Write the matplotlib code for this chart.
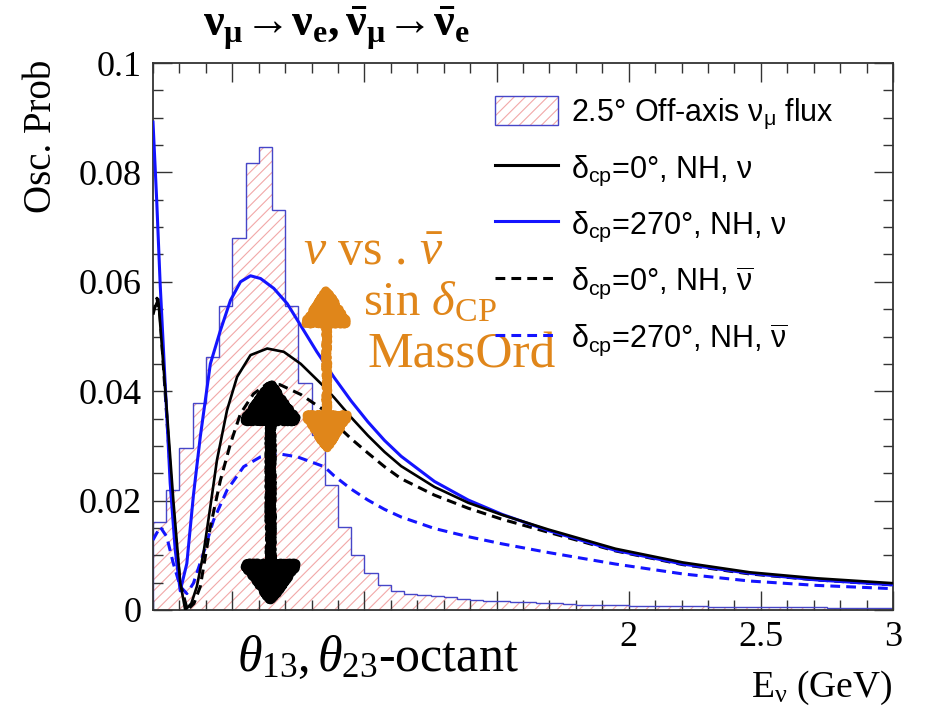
import matplotlib
matplotlib.use('Agg')
import matplotlib.pyplot as plt
import numpy as np
from matplotlib.patches import Patch
from matplotlib.lines import Line2D
from matplotlib.legend_handler import HandlerTuple
from matplotlib.ticker import MultipleLocator, FixedLocator, FixedFormatter

plt.rcParams['font.family'] = ['Liberation Serif', 'DejaVu Serif']
plt.rcParams['mathtext.fontset'] = 'custom'
plt.rcParams['mathtext.rm'] = 'Liberation Serif'
plt.rcParams['mathtext.it'] = 'Liberation Serif:italic'
plt.rcParams['mathtext.bf'] = 'Liberation Serif:bold'
plt.rcParams['mathtext.sf'] = 'Liberation Sans'
plt.rcParams['hatch.linewidth'] = 0.8

# 2.5 deg off-axis numu flux, 0.05 GeV bins from 0.2 to 3.0 GeV (arbitrary norm)
flux_edges = np.round(np.arange(0.2, 3.0001, 0.05), 3)
flux = [0.0160, 0.0219, 0.0297, 0.0379, 0.0463, 0.0556, 0.0680, 0.0817, 0.0846, 0.0731,
        0.0556, 0.0415, 0.0320, 0.0228, 0.0152, 0.0100, 0.0067, 0.0045, 0.0035,
        0.0030, 0.0027, 0.0025, 0.0023, 0.0021, 0.0019, 0.0017, 0.0016, 0.0015, 0.0014,
        0.0013, 0.0012, 0.0011, 0.0010, 0.0010, 0.0009, 0.0009, 0.0008, 0.0008, 0.0008,
        0.0007, 0.0007, 0.0007, 0.0006, 0.0006, 0.0006, 0.0006, 0.0005, 0.0005, 0.0005,
        0.0005, 0.0005, 0.0004, 0.0004, 0.0004, 0.0004, 0.0004]

# delta_cp = 0, NH, neutrino
e_nu0 = [0.20, 0.22, 0.25, 0.277, 0.303, 0.322, 0.345, 0.366, 0.391, 0.417, 0.442, 0.48,
         0.518, 0.569, 0.632, 0.695, 0.759, 0.848, 0.886, 0.95, 1.013, 1.076, 1.139, 1.265,
         1.393, 1.52, 1.697, 1.95, 2.204, 2.457, 2.71, 3.0]
p_nu0 = [0.0545, 0.0568, 0.0380, 0.0200, 0.0050, 0.0000, 0.0012, 0.0043, 0.0104, 0.0189,
         0.0274, 0.0365, 0.0426, 0.0466, 0.0478, 0.0472, 0.0450, 0.0408, 0.0388, 0.0352,
         0.0319, 0.0289, 0.0263, 0.0225, 0.0196, 0.0174, 0.0147, 0.0112, 0.0087, 0.0069,
         0.0058, 0.0049]

# delta_cp = 270, NH, neutrino
e_nu270 = [0.20, 0.214, 0.227, 0.246, 0.265, 0.284, 0.303, 0.328, 0.341, 0.353, 0.379,
           0.417, 0.455, 0.493, 0.531, 0.569, 0.607, 0.657, 0.708, 0.759, 0.82, 0.884, 0.95,
           1.013, 1.076, 1.139, 1.265, 1.393, 1.52, 1.697, 1.95, 2.204, 2.457, 2.71, 3.0]
p_nu270 = [0.0892, 0.0749, 0.0597, 0.0414, 0.0232, 0.0110, 0.0035, 0.0085, 0.0150, 0.0210,
           0.0317, 0.0450, 0.0511, 0.0566, 0.0600, 0.0611, 0.0606, 0.0588, 0.0560, 0.0520,
           0.0472, 0.0426, 0.0382, 0.0344, 0.0310, 0.0281, 0.0235, 0.0201, 0.0175, 0.0145,
           0.0109, 0.0084, 0.0067, 0.0055, 0.0046]

# delta_cp = 0, NH, antineutrino
e_nub0 = [0.20, 0.215, 0.227, 0.252, 0.277, 0.303, 0.33, 0.355, 0.379, 0.417, 0.455, 0.493,
          0.531, 0.58, 0.63, 0.68, 0.759, 0.848, 0.884, 0.95, 1.013, 1.076, 1.139, 1.265,
          1.393, 1.52, 1.697, 1.95, 2.204, 2.457, 2.71, 3.0]
p_nub0 = [0.0540, 0.0570, 0.0536, 0.0353, 0.0170, 0.0049, 0.0000, 0.0012, 0.0043, 0.0152,
          0.0237, 0.0304, 0.0359, 0.0395, 0.0413, 0.0412, 0.0394, 0.0365, 0.0343, 0.0313,
          0.0287, 0.0262, 0.0240, 0.0210, 0.0186, 0.0166, 0.0142, 0.0108, 0.0083, 0.0066,
          0.0055, 0.0046]

# delta_cp = 270, NH, antineutrino
e_nub270 = [0.20, 0.227, 0.252, 0.277, 0.303, 0.328, 0.353, 0.391, 0.429, 0.48, 0.543,
            0.607, 0.67, 0.746, 0.848, 0.886, 0.95, 1.013, 1.076, 1.139, 1.265, 1.393,
            1.52, 1.697, 1.95, 2.204, 2.457, 2.71, 3.0]
p_nub270 = [0.0128, 0.0152, 0.0134, 0.0085, 0.0043, 0.0030, 0.0049, 0.0104, 0.0164, 0.0219,
            0.0262, 0.0280, 0.0286, 0.0280, 0.0262, 0.0245, 0.0221, 0.0201, 0.0184, 0.0170,
            0.0149, 0.0134, 0.0121, 0.0105, 0.0084, 0.0066, 0.0053, 0.0045, 0.0039]

blue = '#1414ff'
hist_blue = '#4646c8'
pink = '#f2a8a8'
orange = '#e0861a'

fig = plt.figure(figsize=(9.33, 7.16), dpi=100)
ax = fig.add_axes([153 / 933, 1 - 610 / 716, 740 / 933, 547 / 716])

# flux histogram: pink hatch + blue outline
ax.stairs(flux, flux_edges, fill=True, facecolor='none', edgecolor=pink,
          hatch='///', linewidth=0, zorder=1)
ax.stairs(flux, flux_edges, fill=False, edgecolor=hist_blue, linewidth=1.0, zorder=2)

ax.plot(e_nub270, p_nub270, color=blue, lw=2.2, dashes=(3.2, 2.0), zorder=3)
ax.plot(e_nub0, p_nub0, color='black', lw=2.2, dashes=(3.2, 2.0), zorder=3)
ax.plot(e_nu270, p_nu270, color=blue, lw=2.2, zorder=4)
ax.plot(e_nu0, p_nu0, color='black', lw=1.9, zorder=4)

ax.set_xlim(0.2, 3.0)
ax.set_ylim(0, 0.1)

# ROOT-style ticks
ax.xaxis.set_major_locator(FixedLocator([0.5, 1.0, 1.5, 2.0, 2.5, 3.0]))
ax.xaxis.set_major_formatter(FixedFormatter(['', '', '', '2', '2.5', '3']))
ax.xaxis.set_minor_locator(MultipleLocator(0.1))
ax.yaxis.set_major_locator(MultipleLocator(0.02))
ax.yaxis.set_minor_locator(MultipleLocator(0.005))
ax.yaxis.set_major_formatter(plt.FuncFormatter(lambda v, p: '%g' % v))
ax.tick_params(which='both', direction='in', top=True, right=True, width=1.0, color='#333333')
ax.tick_params(which='major', length=14, labelsize=26, pad=8)
ax.tick_params(which='minor', length=7)
for s in ax.spines.values():
    s.set_linewidth(1.3)
    s.set_color('#333333')

fig.text(0.045, 0.917, 'Osc. Prob', rotation=90, ha='center', va='top', fontsize=28)
fig.text(893 / 933, 0.012, r'E$_{\mathrm{\nu}}$ (GeV)', ha='right', va='bottom', fontsize=27)
fig.text(0.218, 0.928,
         r'$\mathbf{\nu_{\mu}\!\rightarrow\!\nu_{e}, \bar{\nu}_{\mu}\!\rightarrow\!\bar{\nu}_{e}}$',
         ha='left', va='bottom', fontsize=33)

ax.text(0.304, -0.045, r'$\theta_{13}, \theta_{23}$-octant', transform=ax.transAxes,
        ha='center', va='top', fontsize=36)

# annotations
ax.text(0.767, 0.0630, r'$\nu$ vs . $\bar{\nu}$', color=orange, fontsize=36,
        ha='left', va='baseline')
ax.text(0.995, 0.0539, r'sin $\delta_{\mathrm{CP}}$', color=orange, fontsize=35,
        ha='left', va='baseline')
ax.text(1.01, 0.0444, 'MassOrd', color=orange, fontsize=37, ha='left', va='baseline')

arr1 = ax.annotate('', xy=(0.857, 0.0597), xytext=(0.857, 0.0283),
                   arrowprops=dict(arrowstyle='<|-|>,head_length=2.3,head_width=1.5',
                                   color=orange, lw=6, shrinkA=0, shrinkB=0), zorder=5)
arr2 = ax.annotate('', xy=(0.645, 0.0426), xytext=(0.645, 0.0004),
                   arrowprops=dict(arrowstyle='<|-|>,head_length=2.5,head_width=1.8',
                                   color='black', lw=7, shrinkA=0, shrinkB=0), zorder=5)
for a in (arr1, arr2):
    a.arrow_patch.set_sketch_params(scale=1.5, length=4, randomness=3)

# legend
flux_handle = (Patch(facecolor='none', edgecolor=pink, hatch='///', linewidth=0),
               Patch(facecolor='none', edgecolor=hist_blue, linewidth=1.0))
handles = [flux_handle,
           Line2D([], [], color='black', lw=2.2),
           Line2D([], [], color=blue, lw=2.2),
           Line2D([], [], color='black', lw=2.2, dashes=(3.2, 2.0)),
           Line2D([], [], color=blue, lw=2.2, dashes=(3.2, 2.0))]
labels = [r'2.5° Off-axis ν$_{\mathsf{\mu}}$ flux',
          r'δ$_{\mathsf{cp}}$=0°, NH, ν',
          r'δ$_{\mathsf{cp}}$=270°, NH, ν',
          r'δ$_{\mathsf{cp}}$=0°, NH, $\overline{\mathsf{\nu}}$',
          r'δ$_{\mathsf{cp}}$=270°, NH, $\overline{\mathsf{\nu}}$']
leg = ax.legend(handles, labels, handler_map={tuple: HandlerTuple(ndivide=1, pad=0)},
                loc='upper left', bbox_to_anchor=(0.462, 0.94), frameon=False,
                borderpad=0, borderaxespad=0, handlelength=2.05, handleheight=1.1,
                handletextpad=0.45, labelspacing=0.68,
                prop={'family': ['Liberation Sans', 'DejaVu Sans'], 'size': 22})

fig.savefig('out.png', dpi=100)
